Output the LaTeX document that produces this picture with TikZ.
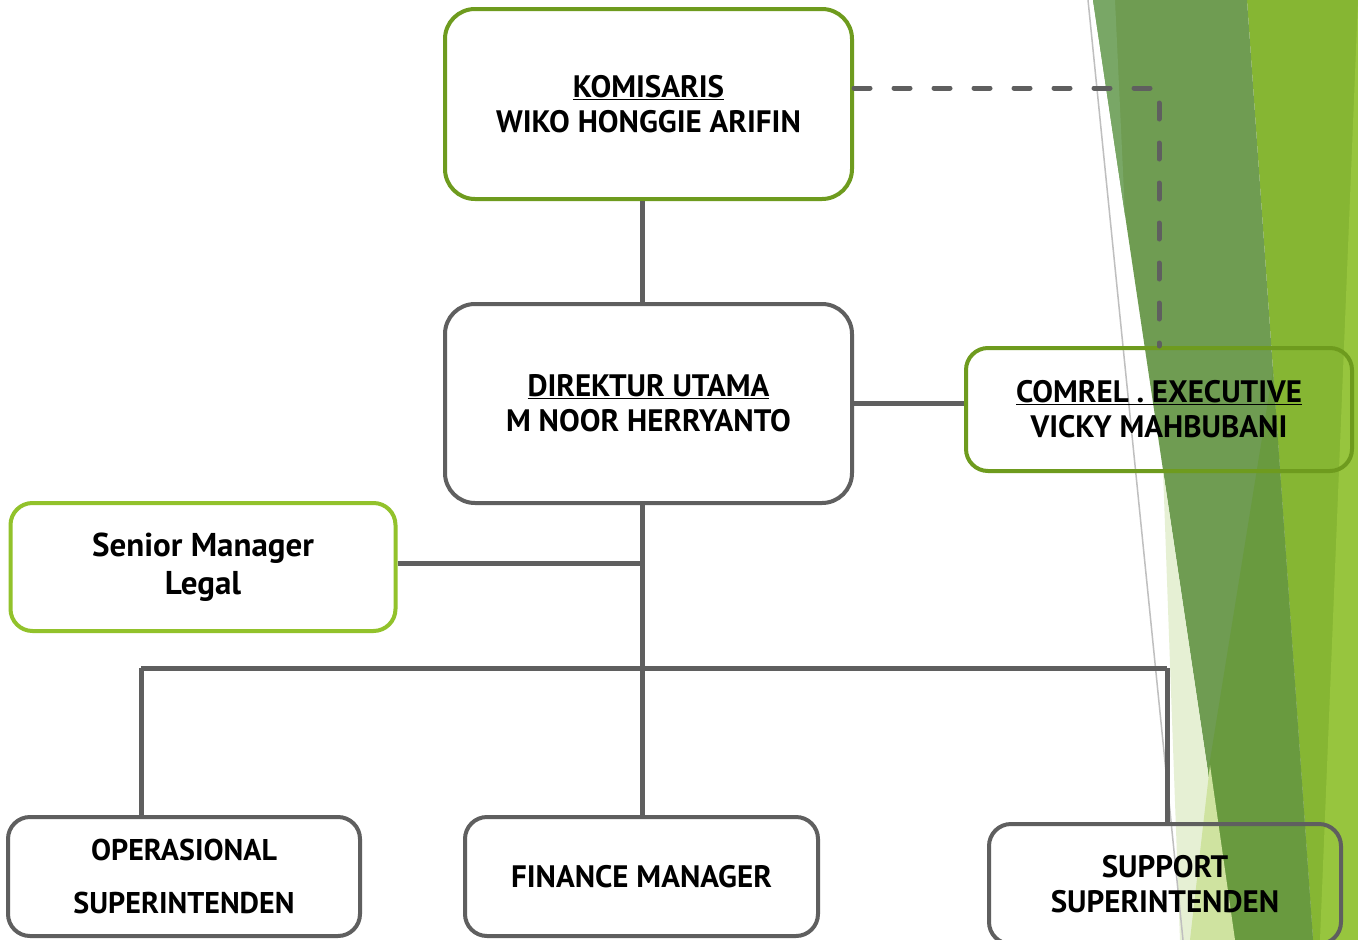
\documentclass[tikz,border=0pt]{standalone}
\usepackage{fontspec}
\setmainfont{PT Sans}
\definecolor{olive}{HTML}{6E9B1E}
\definecolor{lime}{HTML}{92C22B}
\definecolor{linegrey}{HTML}{5F5F5F}
\definecolor{muted}{HTML}{6F9C52}
\definecolor{mutedlight}{HTML}{79A766}
\definecolor{darkg}{HTML}{699A3F}
\definecolor{brightg}{HTML}{86B633}
\definecolor{rightg}{HTML}{97C53E}
\definecolor{paleA}{HTML}{E6F0D4}
\definecolor{paleB}{HTML}{CFE3A0}
\definecolor{thingrey}{HTML}{BFBFBF}
\begin{document}
\begin{tikzpicture}[x=1pt,y=-1pt,
  box/.style={draw, rounded corners=#1, line width=4pt, align=center, inner sep=0pt,
    font=\bfseries\fontsize{31}{35}\selectfont, text=black},
  box/.default=30pt,
  conn/.style={draw=linegrey, line width=5pt},
  dashconn/.style={draw=linegrey, line width=5pt, line cap=round, dash pattern=on 16pt off 24pt}]
\useasboundingbox (0,0) rectangle (1358,940);
\fill[white] (0,0) rectangle (1358,940);
% background decoration
\fill[brightg] (1247,0) -- (1358,0) -- (1358,940) -- (1313,940) -- cycle;
\fill[rightg] (1358,0) -- (1358,940) -- (1320,940) -- cycle;
\fill[muted] (1093,0) -- (1247,0) -- (1313,940) -- (1233,940) -- cycle;
\fill[mutedlight] (1093,0) -- (1115,0) -- (1125,215) -- cycle;
\fill[darkg] (1273,370) -- (1313,940) -- (1181,940) -- cycle;
\fill[paleA] (1163,470) -- (1233,940) -- (1180,940) -- cycle;
\fill[paleB] (1210,765) -- (1235,940) -- (1190,940) -- cycle;
\draw[draw=thingrey, line width=1.5pt] (1088,0) -- (1183,940);
% nodes
\node[box, draw=olive, minimum width=407pt, minimum height=190pt] (kom) at (648.5,104)
  {\underline{KOMISARIS}\\WIKO HONGGIE ARIFIN};
\node[box, draw=linegrey, minimum width=407pt, minimum height=199pt] (dir) at (648.5,403.5)
  {\underline{DIREKTUR UTAMA}\\M NOOR HERRYANTO};
\node[box=22pt, draw=olive, minimum width=386pt, minimum height=123pt] (com) at (1159,409.5)
  {\underline{COMREL . EXECUTIVE}\\VICKY MAHBUBANI};
\node[box=22pt, draw=lime, minimum width=385pt, minimum height=128pt,
  font=\bfseries\fontsize{33}{38}\selectfont] (sm) at (203,567)
  {Senior Manager\\Legal};
\node[box=22pt, draw=linegrey, minimum width=352pt, minimum height=119pt,
  font=\bfseries\fontsize{30}{53}\selectfont] (ops) at (184,876.5)
  {OPERASIONAL\\SUPERINTENDEN};
\node[box=22pt, draw=linegrey, minimum width=353pt, minimum height=119pt] (fin) at (641.5,876.5)
  {FINANCE MANAGER};
\node[box=22pt, draw=linegrey, minimum width=352pt, minimum height=120pt] (sup) at (1165,884)
  {SUPPORT\\SUPERINTENDEN};
% connectors
\coordinate (busL) at (141,668);
\coordinate (trunk) at (642,668);
\coordinate (busR) at (1167,668);
\draw[conn] (kom.south -| trunk) -- (dir.north -| trunk);
\draw[dashconn] ([yshift=16pt]kom.east) -| (com.north);
\draw[conn] (dir.east) -- (dir.east -| com.west);
\draw[conn] (dir.south -| trunk) -- (trunk);
\draw[conn] ([yshift=4pt]sm.east) -- ([yshift=4pt]sm.east -| trunk);
\draw[conn] (busL) -- (busR);
\draw[conn] (busL) -- (busL |- ops.north);
\draw[conn] (trunk) -- (trunk |- fin.north);
\draw[conn] (busR) -- (busR |- sup.north);
\end{tikzpicture}
\end{document}
